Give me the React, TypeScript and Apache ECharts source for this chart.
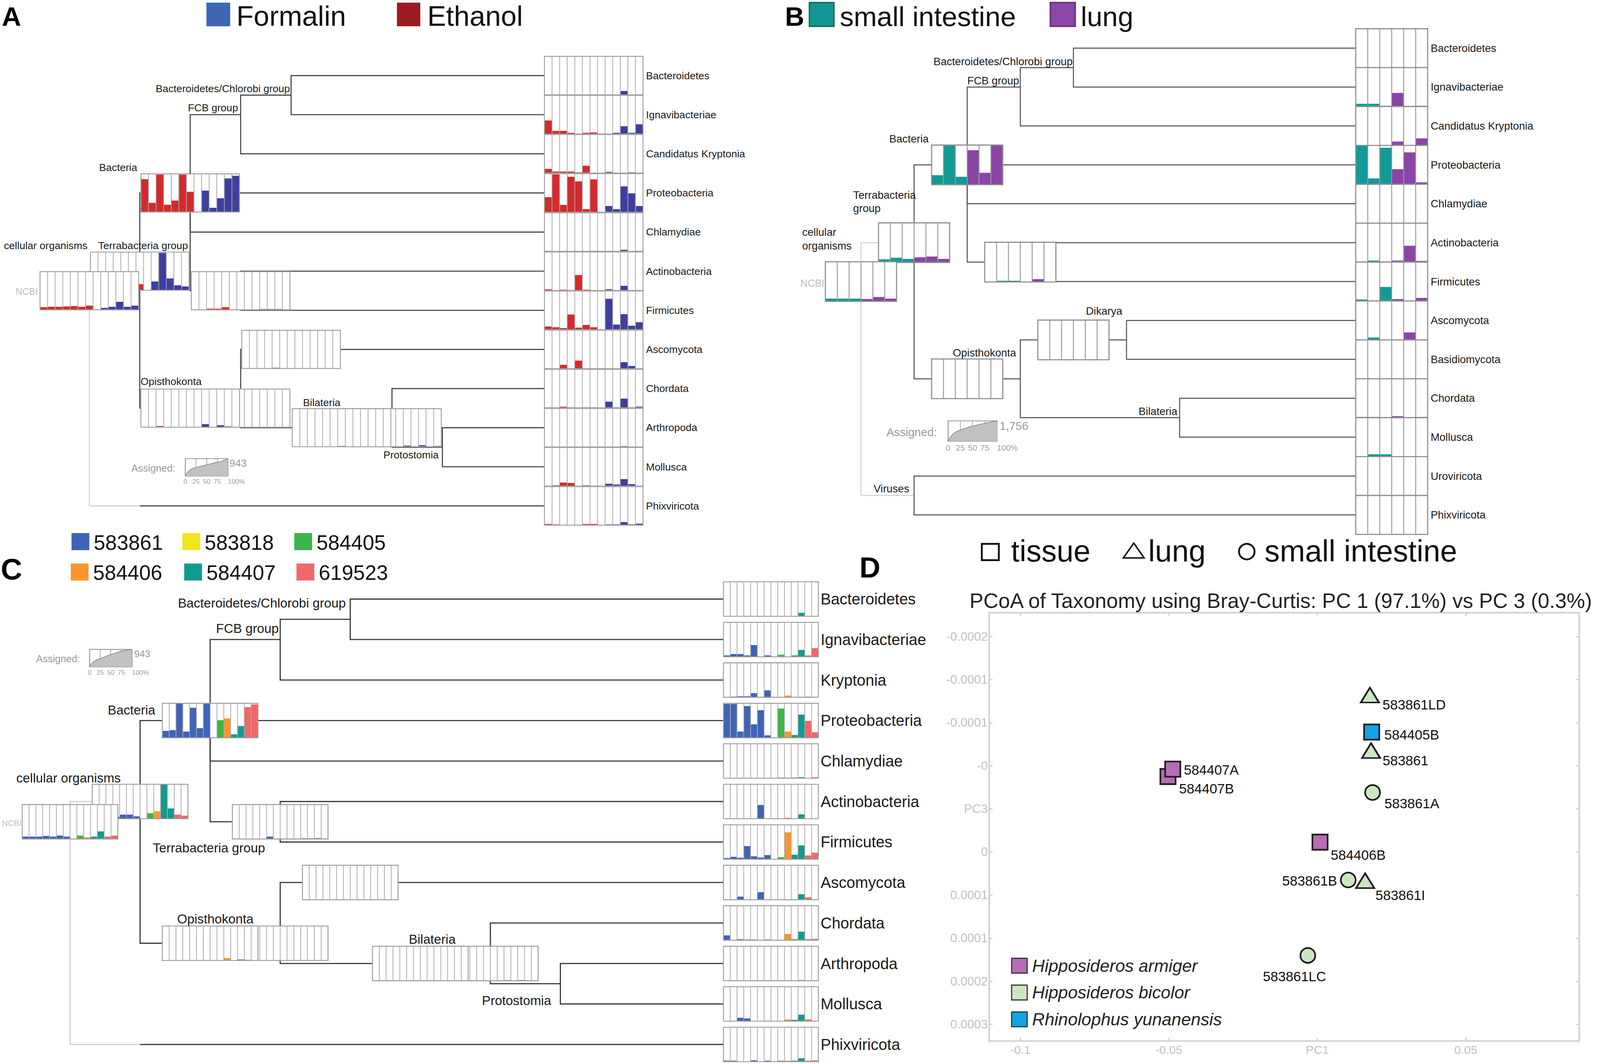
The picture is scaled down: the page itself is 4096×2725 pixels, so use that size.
import React, { useEffect, useRef } from "react";
import * as echarts from "echarts";

const W = 4096;
const H = 2725;
const RW = 4317;
const RH = 2872;
const S = W / RW;
const FONT = "'Liberation Sans', Arial, Helvetica, sans-serif";

// ======================= PANEL A (Formalin / Ethanol) =======================
const A_leaves = ["Bacteroidetes", "Ignavibacteriae", "Candidatus Kryptonia", "Proteobacteria", "Chlamydiae", "Actinobacteria", "Firmicutes", "Ascomycota", "Chordata", "Arthropoda", "Mollusca", "Phixviricota"];
const A_leafParents = ["BCG", "BCG", "FCB", "Bacteria", "Bacteria", "Terra", "Terra", "Fungi", "Bilateria", "Protostomia", "Protostomia", "NCBI"];
const A_leafBars = [
  [0, 0, 0, 0.01, 0.01, 0, 0.01, 0, 0, 0, 0.1, 0, 0.01],
  [0.35, 0.08, 0.08, 0.03, 0, 0.03, 0.04, 0, 0, 0.03, 0.2, 0.03, 0.25],
  [0.11, 0.04, 0.04, 0.04, 0.02, 0.19, 0, 0, 0.03, 0, 0, 0.02, 0],
  [0.39, 0.98, 0.19, 0.92, 0.8, 0.08, 0.85, 0, 0.16, 0.08, 0.67, 0.49, 0.16],
  [0.01, 0, 0, 0, 0, 0, 0.01, 0, 0.01, 0, 0.04, 0, 0.01],
  [0.03, 0, 0.02, 0.01, 0.4, 0.02, 0, 0, 0.03, 0, 0.12, 0, 0.01],
  [0.08, 0.06, 0.04, 0.39, 0.05, 0.12, 0.06, 0, 0.8, 0.13, 0.4, 0.1, 0.19],
  [0, 0, 0.1, 0, 0.21, 0, 0, 0, 0, 0, 0.17, 0.07, 0],
  [0.01, 0, 0.03, 0.01, 0, 0.01, 0.01, 0, 0.16, 0.01, 0.24, 0.01, 0.03],
  [0, 0, 0, 0, 0, 0, 0, 0, 0, 0, 0.02, 0, 0],
  [0, 0.02, 0.09, 0.08, 0, 0.02, 0, 0, 0.06, 0.04, 0.18, 0.05, 0.01],
  [0.03, 0.02, 0.01, 0, 0, 0.03, 0.03, 0, 0.02, 0.02, 0.08, 0.02, 0.04],
];
const A_ids = ["NCBI", "cellular", "Bacteria", "FCB", "BCG", "Terra", "Opist", "Holozoa", "Fungi", "Metazoa", "Bilateria", "Protostomia"];
const A_parents = [null, "NCBI", "cellular", "Bacteria", "FCB", "Bacteria", "cellular", "Opist", "Holozoa", "Holozoa", "Metazoa", "Bilateria"];
const A_depth = [0, 1, 2, 3, 4, 3, 2, 3, 4, 5, 6, 7];
const A_row = [5.5, 5, 3, 1, 0.5, 5.5, 8.5, 8.5, 7, 9, 9, 9.5];
const A_labels = ["NCBI", "cellular organisms", "Bacteria", "FCB group", "Bacteroidetes/Chlorobi group", "Terrabacteria group", "Opisthokonta", "", "", "", "Bilateria", "Protostomia"];
const A_bars = {
  NCBI: [0.07, 0.08, 0.08, 0.09, 0.1, 0.08, 0.11, 0, 0.05, 0.08, 0.21, 0.08, 0.11],
  cellular: [0.04, 0.04, 0.04, 0.04, 0.04, 0.06, 0.16, 0, 0.23, 0.98, 0.31, 0.13, 0.1],
  Bacteria: [0.86, 0.24, 0.98, 0.19, 0.3, 0.98, 0.53, 0, 0.56, 0.11, 0.36, 0.88, 0.95],
  Terra: [0, 0, 0.03, 0.03, 0.07, 0, 0, 0, 0, 0.02, 0.02, 0.02, 0],
  Opist: [0.01, 0, 0.03, 0, 0, 0, 0, 0, 0.08, 0, 0.05, 0.02, 0.01],
  Holozoa: [0, 0, 0, 0, 0, 0, 0, 0, 0, 0, 0, 0, 0],
  Fungi: [0, 0, 0, 0, 0.02, 0, 0, 0, 0, 0, 0, 0, 0],
  Metazoa: [0, 0, 0, 0, 0, 0, 0.02, 0, 0, 0, 0, 0, 0],
  Bilateria: [0, 0, 0, 0, 0, 0, 0, 0, 0.03, 0, 0.04, 0, 0.02],
};
const A_assignedCurve = [[0, 0], [0.065, 0.25], [0.19, 0.45], [0.43, 0.6], [0.67, 0.75], [0.84, 0.85], [1, 1]];

// ======================= PANEL B (small intestine / lung) =======================
const B_leaves = ["Bacteroidetes", "Ignavibacteriae", "Candidatus Kryptonia", "Proteobacteria", "Chlamydiae", "Actinobacteria", "Firmicutes", "Ascomycota", "Basidiomycota", "Chordata", "Mollusca", "Uroviricota", "Phixviricota"];
const B_leafParents = ["BCG", "BCG", "FCB", "Bacteria", "Bacteria", "Terra", "Terra", "Fungi", "Fungi", "Bilateria", "Bilateria", "Viruses", "Viruses"];
const B_leafBars = [
  [0, 0, 0, 0, 0.01, 0],
  [0.07, 0.07, 0.02, 0.35, 0, 0.02],
  [0, 0, 0, 0.1, 0, 0.18],
  [1.0, 0.15, 0.94, 0.39, 0.82, 0.05],
  [0, 0, 0, 0, 0, 0],
  [0, 0.04, 0.01, 0.04, 0.42, 0.03],
  [0.04, 0.01, 0.36, 0.05, 0.01, 0.08],
  [0, 0.06, 0, 0, 0.19, 0],
  [0, 0, 0, 0, 0, 0],
  [0.02, 0.02, 0.01, 0.04, 0, 0.02],
  [0, 0.06, 0.06, 0, 0, 0],
  [0, 0, 0, 0, 0, 0],
  [0, 0, 0, 0, 0, 0],
];
const B_ids = ["NCBI", "cellular", "Bacteria", "FCB", "BCG", "Terra", "Opist", "Holozoa", "Dikarya", "Fungi", "Bilateria", "Viruses"];
const B_parents = [null, "NCBI", "cellular", "Bacteria", "FCB", "Bacteria", "cellular", "Opist", "Holozoa", "Dikarya", "Holozoa", "NCBI"];
const B_depth = [0, 1, 2, 3, 4, 3, 2, 3, 4, 5, 6, 1];
const B_row = [6, 5, 3, 1, 0.5, 5.5, 8.5, 8.5, 7.5, 7.5, 9.5, 11.5];
const B_labels = ["NCBI", "cellular\norganisms", "Bacteria", "FCB group", "Bacteroidetes/Chlorobi group", "Terrabacteria\ngroup", "Opisthokonta", "", "Dikarya", "", "Bilateria", "Viruses"];
const B_bars = {
  NCBI: [0.07, 0.07, 0.07, 0.06, 0.11, 0.07],
  cellular: [0.08, 0.12, 0.09, 0.13, 0.15, 0.09],
  Bacteria: [0.24, 1.0, 0.2, 0.87, 0.3, 1.0],
  Terra: [0, 0.03, 0.03, 0, 0.07, 0],
  Opist: [0, 0.01, 0, 0.01, 0, 0],
  Dikarya: [0, 0, 0, 0, 0.01, 0],
};
const B_assignedCurve = [[0, 0], [0.11, 0.37], [0.3, 0.59], [0.53, 0.76], [0.75, 0.88], [1, 1]];

// ======================= PANEL C (six samples) =======================
const C_leaves = ["Bacteroidetes", "Ignavibacteriae", "Kryptonia", "Proteobacteria", "Chlamydiae", "Actinobacteria", "Firmicutes", "Ascomycota", "Chordata", "Arthropoda", "Mollusca", "Phixviricota"];
const C_leafParents = ["BCG", "BCG", "FCB", "Bacteria", "Bacteria", "Terra", "Terra", "Fungi", "Bilateria", "Protostomia", "Protostomia", "NCBI"];
const C_leafBars = [
  [0, 0, 0, 0.01, 0, 0.01, 0, 0, 0, 0, 0, 0.1, 0, 0.01],
  [0.04, 0.08, 0.08, 0.04, 0.34, 0, 0.04, 0, 0.06, 0, 0.04, 0.2, 0.04, 0.25],
  [0, 0.02, 0.03, 0.03, 0.12, 0.01, 0.2, 0, 0, 0.05, 0, 0, 0.02, 0],
  [0.98, 0.98, 0.18, 0.92, 0.39, 0.8, 0.07, 0, 0.85, 0.18, 0.08, 0.67, 0.49, 0.16],
  [0, 0, 0, 0, 0.01, 0, 0, 0, 0.02, 0.02, 0.02, 0.03, 0, 0.03],
  [0, 0, 0.01, 0, 0.01, 0.4, 0.01, 0, 0, 0.03, 0, 0.13, 0, 0.01],
  [0.035, 0.07, 0.045, 0.38, 0.085, 0.05, 0.12, 0, 0.06, 0.78, 0.13, 0.4, 0.11, 0.19],
  [0, 0, 0.09, 0, 0, 0.22, 0, 0, 0, 0, 0, 0.16, 0.07, 0],
  [0.14, 0, 0.03, 0.02, 0.02, 0, 0.02, 0, 0.01, 0.18, 0.03, 0.25, 0.03, 0.04],
  [0, 0, 0, 0, 0, 0, 0, 0, 0, 0, 0, 0.02, 0, 0],
  [0, 0.01, 0.1, 0.08, 0, 0, 0.01, 0, 0, 0.05, 0.04, 0.19, 0.05, 0.01],
  [0.03, 0.03, 0, 0, 0.04, 0, 0.03, 0, 0.03, 0.03, 0.03, 0.1, 0.03, 0.04],
];
const C_ids = A_ids;
const C_parents = A_parents;
const C_depth = A_depth;
const C_row = A_row;
const C_labels = A_labels;
const C_bars = {
  NCBI: [0.07, 0.07, 0.07, 0.09, 0.07, 0.1, 0.07, 0, 0.1, 0.05, 0.07, 0.22, 0.07, 0.1],
  cellular: [0.06, 0.06, 0.06, 0.06, 0.12, 0.12, 0.07, 0, 0.16, 0.22, 0.99, 0.3, 0.12, 0.09],
  Bacteria: [0.2, 0.22, 0.99, 0.18, 0.87, 0.28, 0.99, 0, 0.51, 0.56, 0.1, 0.34, 0.89, 0.97],
  Terra: [0, 0, 0, 0, 0, 0.07, 0, 0, 0, 0, 0.02, 0.02, 0.03, 0],
  Opist: [0.01, 0, 0.01, 0, 0, 0, 0, 0, 0, 0.07, 0, 0.03, 0.02, 0],
  Holozoa: [0, 0, 0, 0, 0, 0, 0, 0, 0, 0, 0, 0, 0, 0],
  Fungi: [0, 0, 0, 0, 0, 0, 0, 0, 0, 0, 0, 0, 0, 0],
  Metazoa: [0, 0, 0, 0, 0, 0, 0, 0, 0, 0, 0, 0, 0, 0],
  Bilateria: [0, 0, 0, 0, 0, 0, 0, 0, 0, 0.02, 0, 0.02, 0, 0],
};
const C_assignedCurve = [[0, 0], [0.09, 0.3], [0.28, 0.5], [0.49, 0.7], [0.75, 0.9], [1, 1]];
const C_legendNames = ["583861", "583818", "584405", "584406", "584407", "619523"];

// ======================= PANEL D (PCoA) =======================
const D_samples = ["584407B", "584407A", "584406B", "583861LD", "583861", "583861A", "583861B", "583861I", "583861LC", "584405B"];
const D_species = ["Hipposideros armiger", "Hipposideros armiger", "Hipposideros armiger", "Hipposideros bicolor", "Hipposideros bicolor", "Hipposideros bicolor", "Hipposideros bicolor", "Hipposideros bicolor", "Hipposideros bicolor", "Rhinolophus yunanensis"];
const D_tissue = ["tissue", "tissue", "tissue", "lung", "lung", "small intestine", "small intestine", "lung", "small intestine", "tissue"];
const D_pc1 = [-0.0503, -0.0487, 0.0009, 0.0177, 0.0181, 0.0186, 0.0104, 0.0161, -0.0032, 0.0183];
const D_pc3 = [-0.0000375, -0.0000461, 0.0000386, -0.000132, -0.0000676, -0.000019, 0.0000825, 0.0000833, 0.00017, -0.0000891];
const D_speciesNames = ["Hipposideros armiger", "Hipposideros bicolor", "Rhinolophus yunanensis"];
const D_xTicks = [-0.1, -0.05, 0, 0.05];
const D_xTickLabels = ["-0.1", "-0.05", "PC1", "0.05"];
const D_yTicks = [-0.0002, -0.00015, -0.0001, -0.00005, 0, 0.00005, 0.0001, 0.00015, 0.0002, 0.00025];
const D_yTickLabels = ["-0.0002", "-0.0001", "-0.0001", "-0", "PC3", "0", "0.0001", "0.0001", "0.0002", "0.0003"];

// ======================= layout / style =======================
const RED = "#d42a2c", NAVY = "#3e3f9e";
const TEAL = "#139a96", PURP = "#8a45a6";
const cBLUE = "#3f63b8", cYEL = "#f3e51b", cGRN = "#3db54a", cORG = "#f7962f", cTEAL = "#139a8f", cSAL = "#f06868";

const A_L = {
  x0: 241, dx: 136.1, y0: 204, dy: 105.6,
  leafX: 1469, leafW: 266, leafH: 104, boxW: 266, boxH: 103, leafGap: 8,
  colors: [RED, RED, RED, RED, RED, RED, RED, NAVY, NAVY, NAVY, NAVY, NAVY, NAVY],
  lineW: 2.8, lineColor: "#3c3c3c", rootColor: "#cfcfcf",
  boxColor: "#a0a0a0", boxLineW: 2.5, divColor: "#a8a8a8", divW: 2,
  labelFont: 28, leafFont: 28, rootFont: 25, labelLH: 30,
  off: {
    NCBI: [-139, 3, "right"], cellular: [-141, -69, "right"], Bacteria: [-143, -69, "right"],
    FCB: [-7, -19, "right"], BCG: [-3, -18, "right"], Terra: [-142, -122, "right"],
    Opist: [-134, -72, "left"], Bilateria: [-139, -68, "right"], Protostomia: [-10, 21, "right"],
  },
};
const B_L = {
  x0: 2323, dx: 143.3, y0: 130, dy: 105,
  leafX: 3658, leafW: 194, leafH: 105, boxW: 192, boxH: 107, leafGap: 8,
  colors: [TEAL, TEAL, TEAL, PURP, PURP, PURP],
  lineW: 2.6, lineColor: "#4a4a4a", rootColor: "#cfcfcf",
  boxColor: "#8f8f8f", boxLineW: 3, divColor: "#999999", divW: 2.5,
  labelFont: 29, leafFont: 29, rootFont: 27, labelLH: 36,
  off: {
    NCBI: [-99, 4, "right"], cellular: [-302, -10, "left"], Bacteria: [-104, -70, "right"],
    FCB: [-3, -17, "right"], BCG: [-2, -17, "right"], Terra: [-451, -163, "left"],
    Opist: [132, -70, "right"], Dikarya: [132, -78, "right"], Bilateria: [-6, -17, "right"], Viruses: [-13, -18, "right"],
  },
};
const C_L = {
  x0: 189, dx: 189, y0: 1617, dy: 109.3,
  leafX: 1952, leafW: 256, leafH: 93, boxW: 258, boxH: 93, leafGap: 6,
  colors: [cBLUE, cBLUE, cBLUE, cBLUE, cBLUE, cBLUE, cBLUE, cYEL, cGRN, cORG, cTEAL, cTEAL, cSAL, cSAL],
  lineW: 3, lineColor: "#333333", rootColor: "#cfcfcf",
  boxColor: "#9c9c9c", boxLineW: 2.5, divColor: "#aaaaaa", divW: 2,
  labelFont: 35, leafFont: 42, rootFont: 22, labelLH: 40,
  off: {
    NCBI: [-131, 3, "right"], cellular: [-334, -64, "left"], Bacteria: [-148, -28, "right"],
    FCB: [-4, -30, "right"], BCG: [-12, -44, "right"], Terra: [-344, 70, "left"],
    Opist: [-89, -66, "left"], Bilateria: [-220, -65, "left"], Protostomia: [-25, 45, "right"],
  },
};

function textStyle(text: string, x: number, y: number, size: number, o: any = {}) {
  const align = o.align || "left";
  return {
    text, x, y,
    fill: o.color || "#1a1a1a",
    fontSize: size,
    fontFamily: FONT,
    fontWeight: o.bold ? "bold" : "normal",
    fontStyle: o.italic ? "italic" : "normal",
    align, textAlign: align,
    verticalAlign: "middle", textVerticalAlign: "middle",
    lineHeight: o.lh,
  };
}

function boxChildren(left: number, top: number, w: number, h: number, vals: number[], L: any) {
  const n = vals.length;
  const cw = w / n;
  const ch: any[] = [];
  ch.push({ type: "rect", shape: { x: left, y: top, width: w, height: h }, style: { fill: "#ffffff" } });
  vals.forEach((v, i) => {
    if (v > 0) {
      const bh = v * h;
      ch.push({ type: "rect", shape: { x: left + i * cw, y: top + h - bh, width: cw, height: bh }, style: { fill: L.colors[i] } });
    }
  });
  for (let i = 1; i < n; i++) {
    const x = left + i * cw;
    ch.push({ type: "line", shape: { x1: x, y1: top, x2: x, y2: top + h }, style: { stroke: L.divColor, lineWidth: L.divW * S } });
  }
  ch.push({ type: "rect", shape: { x: left, y: top, width: w, height: h }, style: { fill: null, stroke: L.boxColor, lineWidth: L.boxLineW * S } });
  return ch;
}

function buildTree(T: any, L: any, gi: number) {
  const grid = { left: 0, top: 0, width: W, height: H, show: false };
  const xAxis = { gridIndex: gi, type: "value", min: (0 - L.x0) / L.dx, max: (RW - L.x0) / L.dx, show: false };
  const yAxis = { gridIndex: gi, type: "value", min: (0 - L.y0) / L.dy, max: (RH - L.y0) / L.dy, inverse: true, show: false };
  const ix = (id: string) => T.ids.indexOf(id);
  const leafD = (L.leafX - L.x0) / L.dx;
  const leafWd = L.leafW / L.dx;

  const edges: number[][] = [];
  T.ids.forEach((id: string, i: number) => {
    const p = T.parents[i];
    if (p !== null) {
      const j = ix(p);
      edges.push([T.depth[j], T.row[j], T.depth[i], T.row[i], T.parents[j] === null ? 1 : 0]);
    }
  });
  T.leaves.forEach((nm: string, k: number) => {
    const j = ix(T.leafParents[k]);
    edges.push([T.depth[j], T.row[j], leafD, k, T.parents[j] === null ? 1 : 0]);
  });

  const boxIds = T.ids.filter((id: string) => T.bars[id]).sort((a: string, b: string) => T.depth[ix(b)] - T.depth[ix(a)]);
  const labIds = T.ids.filter((id: string, i: number) => T.labels[i]);

  const common = { type: "custom", coordinateSystem: "cartesian2d", xAxisIndex: gi, yAxisIndex: gi, silent: true, animation: false, clip: false };

  const edgeSeries = {
    ...common, z: 2,
    data: edges,
    renderItem: (params: any, api: any) => {
      const e = edges[params.dataIndex];
      const a = api.coord([e[0], e[1]]);
      const b = api.coord([e[0], e[3]]);
      const c = api.coord([e[2], e[3]]);
      const lw = L.lineW * S;
      if (e[4]) {
        const m = api.coord([Math.min(e[2], e[0] + 1), e[3]]);
        return {
          type: "group",
          children: [
            { type: "polyline", shape: { points: [a, b, m] }, style: { stroke: L.rootColor, lineWidth: lw, fill: null } },
            { type: "line", shape: { x1: m[0], y1: m[1], x2: c[0], y2: c[1] }, style: { stroke: L.lineColor, lineWidth: lw } },
          ],
        };
      }
      return { type: "polyline", shape: { points: [a, b, c] }, style: { stroke: L.lineColor, lineWidth: lw, fill: null } };
    },
  };

  const boxSeries = {
    ...common, z: 3,
    data: boxIds.map((id: string) => [T.depth[ix(id)], T.row[ix(id)]]),
    renderItem: (params: any, api: any) => {
      const id = boxIds[params.dataIndex];
      const i = ix(id);
      const hr = L.boxH / L.dy / 2;
      const wd = L.boxW / L.dx / 2;
      const tl = api.coord([T.depth[i] - wd, T.row[i] - hr]);
      const br = api.coord([T.depth[i] + wd, T.row[i] + hr]);
      return { type: "group", children: boxChildren(tl[0], tl[1], br[0] - tl[0], br[1] - tl[1], T.bars[id], L) };
    },
  };

  const leafSeries = {
    ...common, z: 3,
    data: T.leaves.map((nm: string, k: number) => [leafD, k]),
    renderItem: (params: any, api: any) => {
      const k = params.dataIndex;
      const hr = L.leafH / L.dy / 2;
      const tl = api.coord([leafD, k - hr]);
      const br = api.coord([leafD + leafWd, k + hr]);
      const ch = boxChildren(tl[0], tl[1], br[0] - tl[0], br[1] - tl[1], T.leafBars[k], L);
      ch.push({ type: "text", style: textStyle(T.leaves[k], br[0] + L.leafGap * S, (tl[1] + br[1]) / 2, L.leafFont * S) });
      return { type: "group", children: ch };
    },
  };

  const labelSeries = {
    ...common, z: 4,
    data: labIds.map((id: string) => [T.depth[ix(id)], T.row[ix(id)]]),
    renderItem: (params: any, api: any) => {
      const id = labIds[params.dataIndex];
      const i = ix(id);
      const c = api.coord([T.depth[i], T.row[i]]);
      const o = L.off[id] || [0, 0, "left"];
      const isRoot = T.parents[i] === null;
      return {
        type: "text",
        style: textStyle(T.labels[i], c[0] + o[0] * S, c[1] + o[1] * S, (isRoot ? L.rootFont : L.labelFont) * S, {
          align: o[2], color: isRoot ? "#bdbdbd" : "#1a1a1a", lh: L.labelLH * S,
        }),
      };
    },
  };

  return { grid, xAxis, yAxis, series: [edgeSeries, boxSeries, leafSeries, labelSeries] };
}

function miniChart(gi: number, box: number[], curve: number[][], tickFont: number) {
  const ticks = ["0", "25", "50", "75", "100%"];
  return {
    grid: { left: box[0] * S, top: box[1] * S, width: box[2] * S, height: box[3] * S, show: true, borderColor: "#8a8a8a", borderWidth: 2 * S, backgroundColor: "#ffffff" },
    xAxis: {
      gridIndex: gi, type: "value", min: 0, max: 1, interval: 0.25,
      axisLine: { show: false }, axisTick: { show: false },
      splitLine: { show: true, lineStyle: { color: "#8a8a8a", width: 1.5 * S } },
      axisLabel: {
        show: true, showMinLabel: true, showMaxLabel: true, hideOverlap: false, alignMaxLabel: "left",
        fontSize: tickFont * S, color: "#a0a0a0", fontFamily: FONT, margin: 6 * S,
        formatter: (v: number) => ticks[Math.round(v * 4)],
      },
    },
    yAxis: { gridIndex: gi, type: "value", min: 0, max: 1, show: false },
    series: {
      type: "line", xAxisIndex: gi, yAxisIndex: gi, data: curve, smooth: true, showSymbol: false, silent: true, z: 5,
      lineStyle: { color: "#7a7a7a", width: 1.5 * S }, areaStyle: { color: "#c2c2c2", opacity: 1 },
    },
  };
}

function buildOption() {
  const tA = buildTree({ leaves: A_leaves, leafParents: A_leafParents, leafBars: A_leafBars, ids: A_ids, parents: A_parents, depth: A_depth, row: A_row, labels: A_labels, bars: A_bars }, A_L, 0);
  const tB = buildTree({ leaves: B_leaves, leafParents: B_leafParents, leafBars: B_leafBars, ids: B_ids, parents: B_parents, depth: B_depth, row: B_row, labels: B_labels, bars: B_bars }, B_L, 1);
  const tC = buildTree({ leaves: C_leaves, leafParents: C_leafParents, leafBars: C_leafBars, ids: C_ids, parents: C_parents, depth: C_depth, row: C_row, labels: C_labels, bars: C_bars }, C_L, 2);
  const mA = miniChart(3, [500, 1238, 115, 47], A_assignedCurve, 18);
  const mB = miniChart(4, [2558, 1136, 132, 55], B_assignedCurve, 22);
  const mC = miniChart(5, [242, 1753, 114, 47], C_assignedCurve, 18);

  // ---- panel D scatter ----
  const gD = 6;
  const dGrid = { left: 2669 * S, top: 1654 * S, width: (4261 - 2669) * S, height: (2810 - 1654) * S, show: true, borderColor: "#d6d6d6", borderWidth: 5 * S, backgroundColor: "transparent" };
  const findLab = (vals: number[], labs: string[], v: number, eps: number) => {
    const i = vals.findIndex((t) => Math.abs(t - v) < eps);
    return i >= 0 ? labs[i] : "";
  };
  const xMin = -0.1105, xMax = 0.0882, yMin = -0.0002275, yMax = 0.0002693;
  const tickStyle = { color: "#cfcfcf", width: 3 * S };
  const dX = {
    gridIndex: gD, type: "value", min: xMin, max: xMax, position: "bottom",
    axisLine: { show: false, onZero: false }, splitLine: { show: false },
    axisTick: { show: true, inside: true, length: 9 * S, lineStyle: tickStyle, customValues: D_xTicks },
    axisLabel: { show: true, customValues: D_xTicks, color: "#c2c2c2", fontSize: 32 * S, fontFamily: FONT, margin: 8 * S, formatter: (v: number) => findLab(D_xTicks, D_xTickLabels, v, 1e-7) },
  };
  const dXTop = {
    gridIndex: gD, type: "value", min: xMin, max: xMax, position: "top",
    axisLine: { show: false, onZero: false }, splitLine: { show: false }, axisLabel: { show: false },
    axisTick: { show: true, inside: true, length: 9 * S, lineStyle: tickStyle, customValues: D_xTicks },
  };
  const dY = {
    gridIndex: gD, type: "value", min: yMin, max: yMax, inverse: true, position: "left",
    axisLine: { show: false, onZero: false }, splitLine: { show: false },
    axisTick: { show: true, inside: true, length: 9 * S, lineStyle: tickStyle, customValues: D_yTicks },
    axisLabel: { show: true, customValues: D_yTicks, color: "#c2c2c2", fontSize: 33 * S, fontFamily: FONT, margin: 4 * S, formatter: (v: number) => findLab(D_yTicks, D_yTickLabels, v, 1e-10) },
  };
  const dYRight = {
    gridIndex: gD, type: "value", min: yMin, max: yMax, inverse: true, position: "right",
    axisLine: { show: false, onZero: false }, splitLine: { show: false }, axisLabel: { show: false },
    axisTick: { show: true, inside: true, length: 9 * S, lineStyle: tickStyle, customValues: D_yTicks },
  };
  const speciesColor: any = { "Hipposideros armiger": "#b56db5", "Hipposideros bicolor": "#cde6c2", "Rhinolophus yunanensis": "#12a3e6" };
  const shapeSym: any = { tissue: "rect", lung: "triangle", "small intestine": "circle" };
  const shapeSize: any = { tissue: [41, 41], lung: [49, 40], "small intestine": [40, 40] };
  const labelPos: any = {
    "584407B": ["left", 30, 32], "584407A": ["left", 30, 2], "584406B": ["left", 29, 34],
    "583861LD": ["left", 34, 26], "583861": ["left", 31, 27], "583861A": ["left", 32, 29],
    "583861B": ["right", -30, 2], "583861I": ["left", 28, 39], "583861LC": ["center", -36, 56], "584405B": ["left", 34, 7],
  };
  const dSeries = D_speciesNames.map((sp) => ({
    type: "scatter", name: sp, xAxisIndex: gD, yAxisIndex: gD, z: 10, silent: true,
    itemStyle: { color: speciesColor[sp], borderColor: "#1c1c1c", borderWidth: 4.5 * S, opacity: 1 },
    data: D_samples.map((nm, i) => i).filter((i) => D_species[i] === sp).map((i) => {
      const lp = labelPos[D_samples[i]];
      const sz = shapeSize[D_tissue[i]];
      return {
        name: D_samples[i],
        value: [D_pc1[i], D_pc3[i]],
        symbol: shapeSym[D_tissue[i]],
        symbolSize: [sz[0] * S, sz[1] * S],
        label: {
          show: true, position: "inside", formatter: "{b}", align: lp[0], verticalAlign: "middle",
          offset: [lp[1] * S, lp[2] * S], color: "#111111", fontSize: 37 * S, fontFamily: FONT, textBorderWidth: 0,
        },
      };
    }),
  }));

  // ---- graphic (panel letters, legends, annotations) ----
  const g: any[] = [];
  const gText = (t: string, x: number, y: number, size: number, o: any = {}) =>
    g.push({ type: "text", silent: true, z: 100, style: textStyle(t, x * S, y * S, size * S, o) });
  const gRect = (x: number, y: number, w: number, h: number, fill: string, stroke?: string, lw?: number) =>
    g.push({ type: "rect", silent: true, z: 100, shape: { x: x * S, y: y * S, width: w * S, height: h * S }, style: { fill, stroke: stroke || null, lineWidth: (lw || 0) * S } });

  // Panel letters
  gText("A", 5, 44, 72, { bold: true, color: "#000" });
  gText("B", 2118, 44, 72, { bold: true, color: "#000" });
  gText("C", 2, 1536, 80, { bold: true, color: "#000" });
  gText("D", 2319, 1532, 78, { bold: true, color: "#000" });

  // Legend A
  gRect(557, 7, 64, 64, "#3f65b5");
  gText("Formalin", 638, 43, 76, { color: "#111" });
  gRect(1071, 7, 63, 64, "#9b1c21");
  gText("Ethanol", 1153, 43, 76, { color: "#111" });
  // Legend B
  gRect(2184, 7, 66, 64, "#139693", "#0c6d6a", 4);
  gText("small intestine", 2266, 45, 75, { color: "#111" });
  gRect(2834, 7, 67, 64, "#8b47a6", "#65307e", 4);
  gText("lung", 2916, 45, 75, { color: "#111" });
  // Legend C
  const cLegendColors = [cBLUE, cYEL, cGRN, cORG, cTEAL, cSAL];
  const cLegX = [193, 492, 794, 191, 497, 800];
  const cLegY = [1439, 1439, 1439, 1521, 1521, 1521];
  C_legendNames.forEach((nm, i) => {
    gRect(cLegX[i], cLegY[i], 48, 46, cLegendColors[i]);
    gText(nm, cLegX[i] + 60, cLegY[i] + 25, 56, { color: "#111" });
  });
  // Assigned annotations
  gText("Assigned:", 473, 1264, 27, { align: "right", color: "#9a9a9a" });
  gText("943", 619, 1250, 28, { color: "#9a9a9a" });
  gText("Assigned:", 2528, 1166, 31, { align: "right", color: "#9a9a9a" });
  gText("1,756", 2697, 1149, 31, { color: "#9a9a9a" });
  gText("Assigned:", 216, 1778, 27, { align: "right", color: "#9a9a9a" });
  gText("943", 362, 1765, 26, { color: "#9a9a9a" });

  // Legend D (sample type shapes)
  g.push({ type: "rect", silent: true, z: 100, shape: { x: 2649 * S, y: 1468 * S, width: 46 * S, height: 44 * S }, style: { fill: "#fff", stroke: "#111", lineWidth: 5 * S } });
  gText("tissue", 2728, 1487, 82, { color: "#111" });
  g.push({ type: "polygon", silent: true, z: 100, shape: { points: [[3059 * S, 1466 * S], [3087 * S, 1506 * S], [3031 * S, 1506 * S]] }, style: { fill: "#fff", stroke: "#111", lineWidth: 4 * S } });
  gText("lung", 3098, 1487, 82, { color: "#111" });
  g.push({ type: "circle", silent: true, z: 100, shape: { cx: 3364 * S, cy: 1489 * S, r: 21 * S }, style: { fill: "#fff", stroke: "#111", lineWidth: 5 * S } });
  gText("small intestine", 3412, 1487, 82, { color: "#111" });
  gText("PCoA of Taxonomy using Bray-Curtis: PC 1 (97.1%) vs PC 3 (0.3%)", 2616, 1622, 56, { color: "#222" });

  return {
    animation: false,
    backgroundColor: "#ffffff",
    textStyle: { fontFamily: FONT },
    grid: [tA.grid, tB.grid, tC.grid, mA.grid, mB.grid, mC.grid, dGrid],
    xAxis: [tA.xAxis, tB.xAxis, tC.xAxis, mA.xAxis, mB.xAxis, mC.xAxis, dX, dXTop],
    yAxis: [tA.yAxis, tB.yAxis, tC.yAxis, mA.yAxis, mB.yAxis, mC.yAxis, dY, dYRight],
    legend: {
      data: D_speciesNames, orient: "vertical", left: 2728 * S, top: 2583 * S, padding: 0,
      icon: "rect", itemWidth: 42 * S, itemHeight: 40 * S, itemGap: 25 * S, selectedMode: false,
      itemStyle: { borderColor: "#333", borderWidth: 3 * S },
      textStyle: { fontSize: 47 * S, fontStyle: "italic", color: "#222", fontFamily: FONT, lineHeight: 40 * S, padding: [0, 0, 0, 8 * S] },
    },
    graphic: { elements: g },
    series: [...tA.series, ...tB.series, ...tC.series, mA.series, mB.series, mC.series, ...dSeries],
  };
}

export default function App() {
  const ref = useRef<HTMLDivElement>(null);
  useEffect(() => {
    if (!ref.current) return;
    const chart = echarts.init(ref.current, null, { renderer: "svg" });
    chart.setOption(buildOption() as any);
    return () => chart.dispose();
  }, []);
  return <div ref={ref} style={{ position: "fixed", left: 0, top: 0, width: W, height: H, background: "#fff" }} />;
}
